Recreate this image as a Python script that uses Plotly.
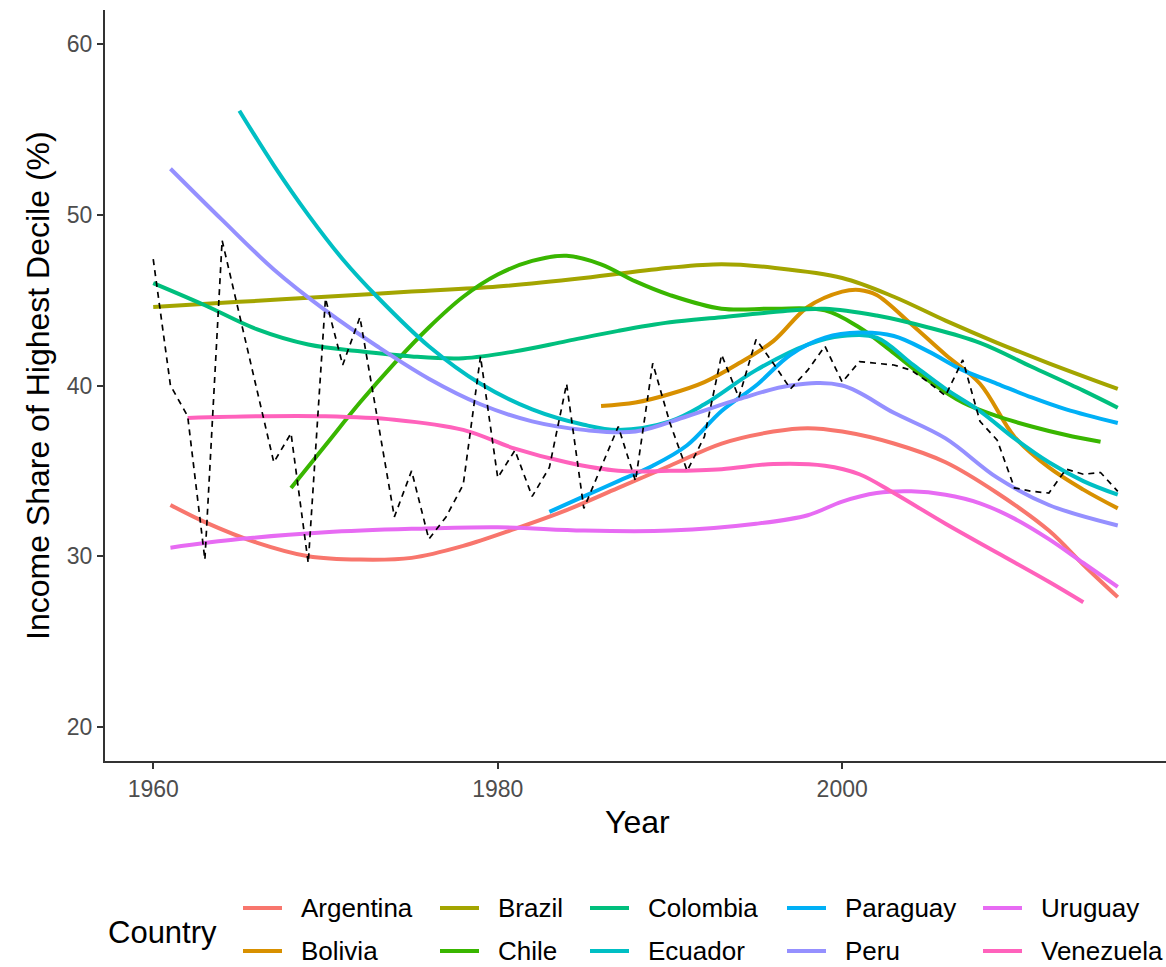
import plotly.graph_objects as go

# ---------------- data ----------------
countries = ["Argentina", "Bolivia", "Brazil", "Chile", "Colombia",
             "Ecuador", "Paraguay", "Peru", "Uruguay", "Venezuela"]
colors = ["#F8766D", "#D89000", "#A3A500", "#39B600", "#00BF7D",
          "#00BFC4", "#00B0F6", "#9590FF", "#E76BF3", "#FF62BC"]

argentina_years = [1961, 1963, 1966, 1969, 1972, 1975, 1978, 1981, 1984, 1987, 1990,
                   1993, 1996, 1998, 2000, 2003, 2006, 2009, 2012, 2014, 2016]
argentina_vals = [33.0, 32.0, 30.8, 30.0, 29.8, 29.9, 30.6, 31.6, 32.7, 34.0, 35.3,
                  36.6, 37.3, 37.5, 37.3, 36.6, 35.5, 33.7, 31.5, 29.5, 27.6]

bolivia_years = [1986, 1988, 1990, 1992, 1994, 1996, 1998, 2000, 2001, 2002, 2004,
                 2006, 2008, 2010, 2012, 2014, 2016]
bolivia_vals = [38.8, 39.0, 39.5, 40.2, 41.3, 42.6, 44.6, 45.5, 45.6, 45.3, 43.6,
                41.8, 40.1, 37.0, 35.2, 33.9, 32.8]

brazil_years = [1960, 1965, 1970, 1975, 1980, 1985, 1990, 1993, 1996, 2000, 2003,
                2006, 2009, 2012, 2016]
brazil_vals = [44.6, 44.9, 45.2, 45.5, 45.8, 46.3, 46.9, 47.1, 46.9, 46.3, 45.2,
               43.8, 42.5, 41.3, 39.8]

chile_years = [1968, 1970, 1972, 1974, 1976, 1978, 1980, 1982, 1984, 1986, 1988,
               1990, 1993, 1996, 1999, 2001, 2003, 2005, 2007, 2009, 2011, 2013, 2015]
chile_vals = [34.0, 36.5, 39.0, 41.3, 43.4, 45.2, 46.5, 47.3, 47.6, 47.1, 46.1,
              45.3, 44.5, 44.5, 44.4, 43.4, 41.9, 40.3, 39.0, 38.2, 37.6, 37.1, 36.7]

colombia_years = [1960, 1963, 1966, 1969, 1972, 1975, 1978, 1981, 1984, 1987, 1990,
                  1993, 1996, 1999, 2002, 2005, 2008, 2011, 2014, 2016]
colombia_vals = [46.0, 44.7, 43.3, 42.4, 42.0, 41.7, 41.6, 42.0, 42.6, 43.2, 43.7,
                 44.0, 44.3, 44.5, 44.1, 43.4, 42.5, 41.1, 39.7, 38.7]

ecuador_years = [1965, 1967, 1969, 1971, 1973, 1976, 1979, 1982, 1985, 1987, 1990,
                 1992, 1995, 1998, 2000, 2002, 2004, 2006, 2008, 2010, 2012, 2014, 2016]
ecuador_vals = [56.1, 52.9, 50.0, 47.4, 45.2, 42.3, 40.1, 38.6, 37.7, 37.4, 37.9,
                38.9, 40.9, 42.4, 42.9, 42.8, 41.3, 39.8, 38.5, 36.9, 35.5, 34.4, 33.6]

paraguay_years = [1983, 1985, 1987, 1989, 1991, 1993, 1995, 1997, 1999, 2001, 2003,
                  2005, 2007, 2009, 2011, 2013, 2016]
paraguay_vals = [32.6, 33.5, 34.4, 35.3, 36.5, 38.5, 40.0, 41.8, 42.8, 43.1, 42.9,
                 42.0, 40.9, 40.1, 39.3, 38.6, 37.8]

peru_years = [1961, 1964, 1967, 1970, 1973, 1976, 1979, 1982, 1985, 1988, 1991,
              1994, 1997, 2000, 2003, 2006, 2009, 2012, 2016]
peru_vals = [52.7, 49.7, 46.8, 44.4, 42.3, 40.4, 38.9, 37.9, 37.4, 37.3, 38.2,
             39.2, 40.0, 40.0, 38.4, 36.9, 34.6, 33.0, 31.8]

uruguay_years = [1961, 1965, 1970, 1975, 1980, 1985, 1990, 1995, 1998, 2000, 2002,
                 2004, 2006, 2008, 2010, 2012, 2014, 2016]
uruguay_vals = [30.5, 31.0, 31.4, 31.6, 31.7, 31.5, 31.5, 31.9, 32.4, 33.2, 33.7,
                33.8, 33.6, 33.1, 32.2, 31.0, 29.6, 28.2]

venezuela_years = [1962, 1966, 1970, 1974, 1978, 1981, 1984, 1987, 1990, 1993, 1996,
                   1999, 2001, 2003, 2006, 2009, 2012, 2014]
venezuela_vals = [38.1, 38.2, 38.2, 38.0, 37.4, 36.3, 35.5, 35.0, 35.0, 35.1, 35.4,
                  35.3, 34.8, 33.7, 31.9, 30.2, 28.5, 27.3]

avg_years = list(range(1960, 2017))
avg_vals = [47.4, 40.0, 38.2, 29.8, 48.5, 44.2, 39.8, 35.5, 37.2, 29.6,
            45.1, 41.2, 44.0, 38.1, 32.3, 35.0, 31.0, 32.3, 34.2, 41.7,
            34.6, 36.2, 33.5, 35.2, 40.1, 32.8, 35.2, 37.6, 34.4, 41.3,
            37.8, 35.0, 37.0, 41.8, 39.3, 42.7, 41.3, 39.8, 40.9, 42.3,
            40.2, 41.4, 41.3, 41.2, 40.9, 40.2, 39.4, 41.5, 37.9, 36.8,
            34.0, 33.8, 33.7, 35.1, 34.8, 34.9, 33.8]

x_ticks = [1960, 1980, 2000]
y_ticks = [20, 30, 40, 50, 60]

series = [
    (argentina_years, argentina_vals), (bolivia_years, bolivia_vals),
    (brazil_years, brazil_vals), (chile_years, chile_vals),
    (colombia_years, colombia_vals), (ecuador_years, ecuador_vals),
    (paraguay_years, paraguay_vals), (peru_years, peru_vals),
    (uruguay_years, uruguay_vals), (venezuela_years, venezuela_vals),
]

# ---------------- figure ----------------
FONT = "Liberation Sans, Arial, Helvetica, sans-serif"
W, H = 1166, 967
ML, MR, MT, MB = 105, 0, 10, 206
PW, PH = W - ML - MR, H - MT - MB

fig = go.Figure()
for name, col, (xs, ys) in zip(countries, colors, series):
    fig.add_trace(go.Scatter(x=xs, y=ys, mode="lines", name=name,
                             line=dict(color=col, width=4, shape="spline", smoothing=1.0),
                             hoverinfo="skip"))
fig.add_trace(go.Scatter(x=avg_years, y=avg_vals, mode="lines", name="Average",
                         line=dict(color="black", width=1.7, dash="6px,5px"),
                         hoverinfo="skip"))


def px_x(p):
    return (p - ML) / PW


def px_y(p):
    return (H - MB - p) / PH


annotations = [
    dict(text="Year", x=px_x(637), y=px_y(822), xref="paper", yref="paper",
         showarrow=False, xanchor="center", yanchor="middle",
         font=dict(family=FONT, size=32, color="black")),
    dict(text="Income Share of Highest Decile (%)", x=px_x(38), y=px_y(386),
         xref="paper", yref="paper", showarrow=False, textangle=-90,
         xanchor="center", yanchor="middle",
         font=dict(family=FONT, size=32, color="black")),
    dict(text="Country", x=px_x(106), y=px_y(933), xref="paper", yref="paper",
         showarrow=False, xanchor="left", yanchor="middle",
         font=dict(family=FONT, size=31, color="black")),
]
shapes = []
key_starts = [243, 440, 590, 787, 983]
row_y = [908, 951]
for i, (name, col) in enumerate(zip(countries, colors)):
    c, r = i // 2, i % 2
    x0 = key_starts[c]
    yy = row_y[r]
    shapes.append(dict(type="line", xref="paper", yref="paper",
                       x0=px_x(x0), x1=px_x(x0 + 39), y0=px_y(yy), y1=px_y(yy),
                       line=dict(color=col, width=4)))
    annotations.append(dict(text=name, x=px_x(x0 + 56), y=px_y(yy), xref="paper",
                            yref="paper", showarrow=False, xanchor="left",
                            yanchor="middle",
                            font=dict(family=FONT, size=26, color="black")))

axis_common = dict(showline=True, linecolor="#333333", linewidth=2, mirror=False,
                   ticks="outside", ticklen=6, tickwidth=1.5, tickcolor="#333333",
                   showgrid=False, zeroline=False,
                   tickfont=dict(family=FONT, size=23, color="#4D4D4D"))

fig.update_layout(
    width=W, height=H,
    margin=dict(l=ML, r=MR, t=MT, b=MB, pad=0),
    paper_bgcolor="white", plot_bgcolor="white",
    showlegend=False,
    font=dict(family=FONT),
    xaxis=dict(range=[1957.2, 2018.8], tickvals=x_ticks, **axis_common),
    yaxis=dict(range=[18, 62], tickvals=y_ticks, **axis_common),
    annotations=annotations,
    shapes=shapes,
)

fig.write_html("out.html", config={"displayModeBar": False},
               post_script="document.body.style.margin='0';document.body.style.overflow='hidden';")
